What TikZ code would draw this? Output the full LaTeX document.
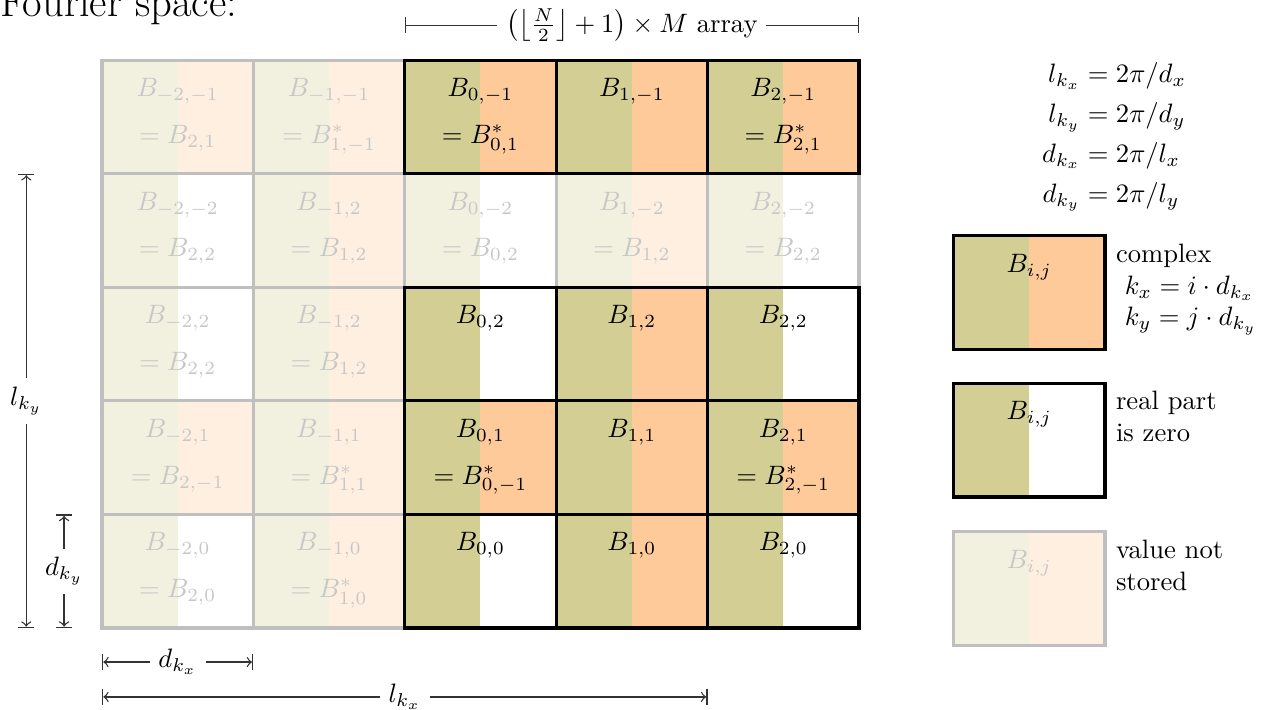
\documentclass[tikz,border=0pt]{standalone}
\usepackage{amsmath}
\definecolor{cgreen}{HTML}{D3CF94}
\definecolor{corange}{HTML}{FFCA99}
\colorlet{solidleft}{cgreen}
\colorlet{ghostleft}{cgreen!30}
\colorlet{gorange}{corange!30}
\tikzset{
  cellbox/.style={rectangle, minimum width=2cm, minimum height=1.5cm, inner sep=0pt, line width=1.2pt},
  solidcell/.style={cellbox, draw=black},
  ghostcell/.style={cellbox, draw=black!25},
  solidtext/.style={text=black, inner sep=0pt},
  ghosttext/.style={text=black!22, inner sep=0pt},
  dimline/.style={|<->|, line width=0.5pt, black!80},
  dimlabel/.style={fill=white, text=black, inner sep=3.3pt},
  legendtext/.style={anchor=north west, align=left, inner sep=3.33pt}
}
% #1 name, #2 x, #3 y, #4 kind, #5 right colour, #6 line 1, #7 line 2
\newcommand\fcell[7]{%
  \node[#4cell, path picture={
      \fill[#4left] (path picture bounding box.south west) rectangle (path picture bounding box.north);
      \fill[#5] (path picture bounding box.south) rectangle (path picture bounding box.north east);}]
    (#1) at (#2,#3) {};
  \node[#4text, anchor=base] (#1a) at ([yshift=-0.5cm]#1.north) {$#6$};
  \if\relax\detokenize{#7}\relax\else
  \node[#4text, anchor=base] (#1b) at ([yshift=-1.12cm]#1.north) {$#7$};
  \fi
}
\begin{document}
\begin{tikzpicture}
\useasboundingbox (-1.347,-1.07) rectangle (15.39,8.296);
\node[anchor=base west, font=\fontsize{16}{19}\selectfont, inner sep=0pt] (title) at (-1.345,8.08) {Fourier space:};

% ghost cells
\fcell{cA1}{1}{6.75}{ghost}{gorange}{B_{-2,-1}}{= B_{2,1}}
\fcell{cB1}{3}{6.75}{ghost}{gorange}{B_{-1,-1}}{= B^*_{1,-1}}
\fcell{cA2}{1}{5.25}{ghost}{white}{B_{-2,-2}}{= B_{2,2}}
\fcell{cB2}{3}{5.25}{ghost}{gorange}{B_{-1,2}}{= B_{1,2}}
\fcell{cC2}{5}{5.25}{ghost}{white}{B_{0,-2}}{= B_{0,2}}
\fcell{cD2}{7}{5.25}{ghost}{gorange}{B_{1,-2}}{= B_{1,2}}
\fcell{cE2}{9}{5.25}{ghost}{white}{B_{2,-2}}{= B_{2,2}}
\fcell{cA3}{1}{3.75}{ghost}{white}{B_{-2,2}}{= B_{2,2}}
\fcell{cB3}{3}{3.75}{ghost}{gorange}{B_{-1,2}}{= B_{1,2}}
\fcell{cA4}{1}{2.25}{ghost}{gorange}{B_{-2,1}}{= B_{2,-1}}
\fcell{cB4}{3}{2.25}{ghost}{gorange}{B_{-1,1}}{= B^*_{1,1}}
\fcell{cA5}{1}{0.75}{ghost}{white}{B_{-2,0}}{= B_{2,0}}
\fcell{cB5}{3}{0.75}{ghost}{gorange}{B_{-1,0}}{= B^*_{1,0}}

% stored cells
\fcell{cC1}{5}{6.75}{solid}{corange}{B_{0,-1}}{= B^*_{0,1}}
\fcell{cD1}{7}{6.75}{solid}{corange}{B_{1,-1}}{}
\fcell{cE1}{9}{6.75}{solid}{corange}{B_{2,-1}}{= B^*_{2,1}}
\fcell{cC3}{5}{3.75}{solid}{white}{B_{0,2}}{}
\fcell{cD3}{7}{3.75}{solid}{corange}{B_{1,2}}{}
\fcell{cE3}{9}{3.75}{solid}{white}{B_{2,2}}{}
\fcell{cC4}{5}{2.25}{solid}{corange}{B_{0,1}}{= B^*_{0,-1}}
\fcell{cD4}{7}{2.25}{solid}{corange}{B_{1,1}}{}
\fcell{cE4}{9}{2.25}{solid}{corange}{B_{2,1}}{= B^*_{2,-1}}
\fcell{cC5}{5}{0.75}{solid}{white}{B_{0,0}}{}
\fcell{cD5}{7}{0.75}{solid}{corange}{B_{1,0}}{}
\fcell{cE5}{9}{0.75}{solid}{white}{B_{2,0}}{}

% legend
\fcell{lgA}{12.25}{4.43}{solid}{corange}{B_{i,j}}{}
\fcell{lgB}{12.25}{2.48}{solid}{white}{B_{i,j}}{}
\fcell{lgC}{12.25}{0.52}{ghost}{gorange}{B_{i,j}}{}
\node[legendtext] (lgAt) at (lgA.north east) {complex\\\hspace*{3.33pt}$k_x = i\cdot d_{k_x}$\\\hspace*{3.33pt}$k_y = j\cdot d_{k_y}$};
\node[legendtext] (lgBt) at (lgB.north east) {real part\\is zero};
\node[legendtext] (lgCt) at (lgC.north east) {value not\\stored};

% relations
\node (rel) at (13.37,6.5) {$\begin{aligned}
  l_{k_x} &= 2\pi/d_x\\
  l_{k_y} &= 2\pi/d_y\\
  d_{k_x} &= 2\pi/l_x\\
  d_{k_y} &= 2\pi/l_y
\end{aligned}$};

% dimensions
\coordinate (topL) at (4,7.96);
\coordinate (topR) at (10,7.96);
\draw[|-|, line width=0.5pt, black!80] (topL) -- node[dimlabel] (toplab) {$\left(\left\lfloor\frac{N}{2}\right\rfloor+1\right)\times M$ array} (topR);
\coordinate (lkyB) at (-1,0);
\coordinate (lkyT) at (-1,6);
\draw[dimline] (lkyB) -- node[dimlabel] (lkylab) {$l_{k_y}$} (lkyT);
\coordinate (dkyB) at (-0.5,0);
\coordinate (dkyT) at (-0.5,1.5);
\draw[dimline] (dkyB) -- node[dimlabel] (dkylab) {$d_{k_y}$} (dkyT);
\coordinate (dkxL) at (0,-0.45);
\coordinate (dkxR) at (2,-0.45);
\draw[dimline] (dkxL) -- node[dimlabel] (dkxlab) {$d_{k_x}$} (dkxR);
\coordinate (lkxL) at (0,-0.91);
\coordinate (lkxR) at (8,-0.91);
\draw[dimline] (lkxL) -- node[dimlabel] (lkxlab) {$l_{k_x}$} (lkxR);
\end{tikzpicture}
\end{document}
